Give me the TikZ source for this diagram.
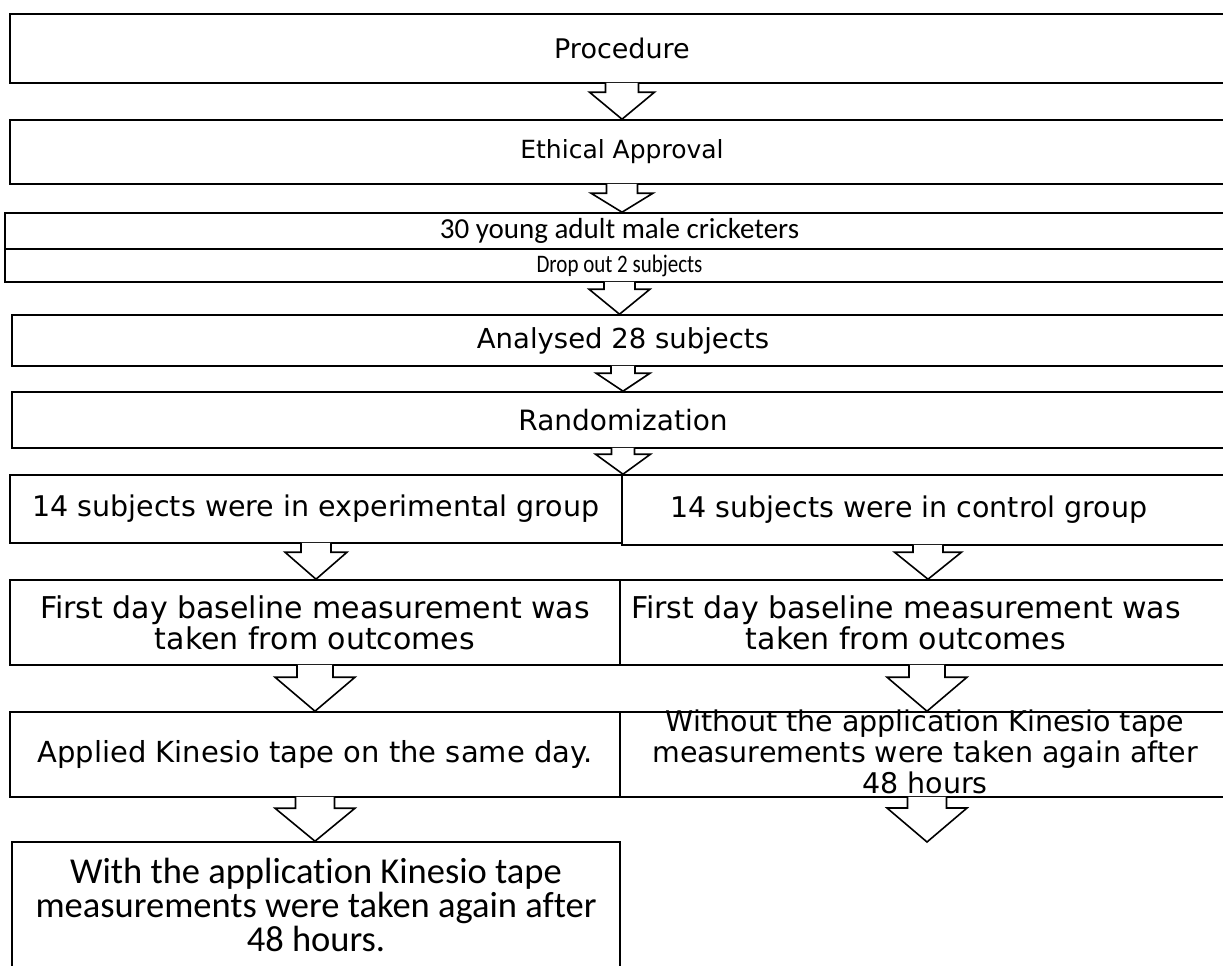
\documentclass[tikz,border=0pt]{standalone}
\usepackage{graphicx}
\usepackage{fontspec}
\setmainfont{Carlito}[Ligatures=NoCommon]
\newfontfamily\widefont{DejaVu Sans}
\usetikzlibrary{calc}
% hollow block arrow: from, to, shaft half width, head half width, head length
\newcommand{\blockarrow}[5]{\draw[blockarr] let \p1=(#1), \p2=(#2) in (\x1-#3pt,\y1+1pt) -- (\x1-#3pt,\y2+#5pt) -- (\x1-#4pt,\y2+#5pt) -- (\x1,\y2) -- (\x1+#4pt,\y2+#5pt) -- (\x1+#3pt,\y2+#5pt) -- (\x1+#3pt,\y1+1pt);}
\begin{document}
\begin{tikzpicture}[x=1pt,y=-1pt,flowbox/.style={draw=black,line width=1.6pt,inner sep=0pt,align=center},blockarr/.style={draw=black,fill=white,line width=1.6pt,line join=miter},toptext/.style={font=\widefont\fontsize{#1}{30}\selectfont},midtext/.style={font=\widefont\fontsize{#1}{31}\selectfont,align=center,inner sep=0pt}]
\useasboundingbox (0,0) rectangle (1223,966);
\clip (0,0) rectangle (1223,966);
% full width steps
\node[flowbox,toptext=27,minimum width=1224pt,minimum height=69pt] (proc) at (622,48.5) {Procedure};
\node[flowbox,toptext=25,minimum width=1224pt,minimum height=64pt] (ethic) at (622,152) {Ethical Approval};
\node[flowbox,font=\fontsize{29}{32}\selectfont,minimum width=1229pt,minimum height=36pt] (crick) at (619.5,231) {30 young adult male cricketers};
\node[flowbox,font=\fontsize{21}{24}\selectfont,minimum width=1229pt,minimum height=33pt] (drop) at (619.5,265.5) {\scalebox{1}[1.2]{Drop out 2 subjects}};
\node[flowbox,toptext=27.5,minimum width=1222pt,minimum height=51pt] (anal) at (623,340.5) {Analysed 28 subjects};
\node[flowbox,toptext=28,minimum width=1222pt,minimum height=56pt] (rand) at (623,420) {Randomization};
% two groups
\node[flowbox,midtext=28.5,minimum width=612pt,minimum height=68pt] (exp) at (316,509) {14 subjects were in experimental group};
\node[flowbox,minimum width=612pt,minimum height=70pt] (ctrl) at (928,510) {};
\node[flowbox,midtext=30,minimum width=610pt,minimum height=85pt] (basel) at (315,622.5) {First day baseline measurement was\\taken from outcomes};
\node[flowbox,minimum width=614pt,minimum height=85pt] (baser) at (927,622.5) {};
\node[flowbox,midtext=29,minimum width=610pt,minimum height=85pt] (tape) at (315,754.5) {Applied Kinesio tape on the same day.};
\node[flowbox,minimum width=614pt,minimum height=85pt] (notape) at (927,754.5) {};
\node[flowbox,font=\fontsize{36.5}{34}\selectfont,minimum width=608pt,minimum height=125pt] (final) at (316,904.5) {With the application Kinesio tape\\measurements were taken again after\\48 hours.};
\coordinate (ctrlend) at (925,842);
% arrows
\blockarrow{proc.south}{ethic.north}{16.5}{32.5}{27}
\blockarrow{ethic.south}{crick.north}{15.5}{31}{19}
\blockarrow{drop.south}{anal.north}{15.5}{30.5}{25}
\blockarrow{anal.south}{rand.north}{12}{27}{18}
\blockarrow{rand.south}{exp.north east}{11.5}{27.5}{20}
\blockarrow{exp.south}{basel.north}{15}{31}{27}
\blockarrow{ctrl.south}{baser.north}{15}{33.5}{27}
\blockarrow{basel.south}{tape.north}{18}{40}{34}
\blockarrow{baser.south}{notape.north}{18}{40}{34}
\blockarrow{tape.south}{final.north}{19.5}{40}{33}
\blockarrow{notape.south}{ctrlend}{19.5}{40}{34}
% right column texts
\node[midtext=28.5] (ctrltext) at (909,510) {14 subjects were in control group};
\node[midtext=30] (basertext) at (906,622.5) {First day baseline measurement was\\taken from outcomes};
\node[midtext=28.5] (notapetext) at (925,752) {Without the application Kinesio tape\\measurements were taken again after\\48 hours};
\end{tikzpicture}
\end{document}
